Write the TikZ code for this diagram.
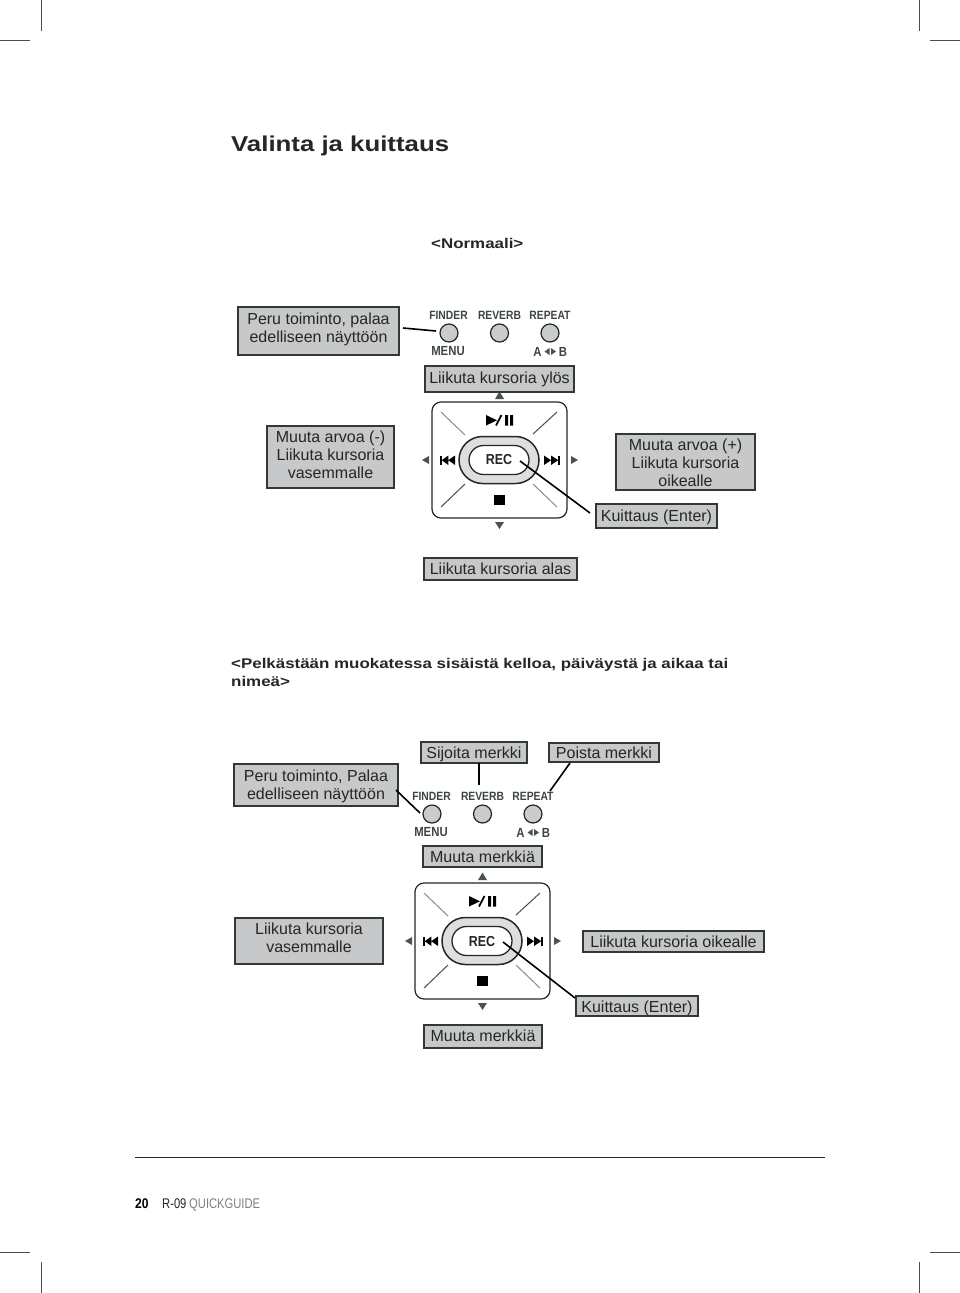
\documentclass[tikz,border=0pt]{standalone}
\usepackage{fontspec}
\setmainfont{Liberation Sans}
\newfontfamily\wideb[FakeStretch=1.2]{Liberation Sans Bold}
\newfontfamily\condb[FakeStretch=0.86]{Liberation Sans Bold}
\newfontfamily\condr[FakeStretch=0.8]{Liberation Sans}
\definecolor{boxgray}{HTML}{C6C8CA}
\definecolor{inkgray}{HTML}{3E4546}
\definecolor{btngray}{HTML}{C9CCCC}
\definecolor{markgray}{HTML}{4A5353}
\tikzset{
  x=1pt,y=-1pt,
  crop/.style={draw=black!70,line width=0.7pt},
  lead/.style={draw=black,line width=1.6pt},
  labbox/.style={draw=inkgray!80!black,line width=1.7pt,fill=boxgray,inner sep=0pt},
  lab/.style={inner sep=0pt,align=center,text=black!85,font=\fontsize{16}{18}\selectfont},
  small/.style={inner sep=0pt,text=inkgray,font=\condb\fontsize{12}{12}\selectfont},
  smallb/.style={inner sep=0pt,text=inkgray,font=\condb\fontsize{13.2}{13}\selectfont},
  btn/.style={circle,draw=black!85,line width=1.2pt,fill=btngray,minimum size=18pt,inner sep=0pt},
  tri/.style={fill=markgray,draw=none},
  icon/.style={fill=black,draw=none},
  head/.style={inner sep=0pt,anchor=base west,align=left,text=black!85,font=\wideb\fontsize{14.1}{18}\selectfont},
  dlight/.style={draw=black!45,line width=1pt},
  ddark/.style={draw=black!70,line width=1pt},
}
\newcommand{\lbl}[7][0]{%
  \node[labbox,minimum width=#5-#3,minimum height=#6-#4] (#2) at ({(#3+#5)/2},{(#4+#6)/2}) {};
  \node[lab] (#2t) at ({(#3+#5)/2},{(#4+#6)/2+#1}) {#7};}
\newcommand{\device}[3]{%
\begin{scope}[shift={(#2,#3)}]
  \node[small] (#1lf) at (448.5,315) {FINDER};
  \node[small] (#1lr) at (499.5,315) {REVERB};
  \node[small] (#1lp) at (550,315) {REPEAT};
  \node[btn] (#1f) at (449,333) {};
  \node[btn] (#1v) at (499.5,333) {};
  \node[btn] (#1p) at (550,333) {};
  \node[smallb] (#1m) at (448,351.5) {MENU};
  \node[smallb] (#1a) at (537.5,351.5) {A};
  \node[smallb] (#1b) at (563,351.5) {B};
  \fill[tri] (544.5,351.5)--(549.5,348)--(549.5,355)--cycle;
  \fill[tri] (556,351.5)--(551,348)--(551,355)--cycle;
  \fill[tri] (495,399)--(499.5,391.5)--(504,399)--cycle;
  \fill[tri] (495,522)--(499.5,529)--(504,522)--cycle;
  \fill[tri] (429,456)--(422,460)--(429,464)--cycle;
  \fill[tri] (571,456)--(578,460)--(571,464)--cycle;
  \node[draw=black!85,line width=1.2pt,fill=white,rounded corners=9pt,minimum width=135pt,minimum height=116pt,inner sep=0pt] (#1pad) at (499.5,460) {};
  \draw[dlight] (441,412)--(465,435);
  \draw[ddark] (557,412)--(533,434);
  \draw[ddark] (441,507)--(465,484);
  \draw[dlight] (557,507)--(533,484);
  \node[draw=black!85,line width=1.5pt,fill=black!13,rounded corners=23.5pt,minimum width=80pt,minimum height=47pt,inner sep=0pt] (#1o) at (499,460) {};
  \node[draw=black!85,line width=1.3pt,fill=white,rounded corners=14.5pt,minimum width=60pt,minimum height=29pt,inner sep=0pt,text=black!85,font=\condb\fontsize{14.5}{14}\selectfont] (#1rec) at (499,460) {REC};
  \fill[icon] (486,415)--(497,420.3)--(486,425.5)--cycle;
  \draw[black,line width=1.8pt] (496,425.5)--(501.5,415);
  \fill[icon] (505,415) rectangle (508,425.5) (510,415) rectangle (513,425.5);
  \fill[icon] (440,455.5) rectangle (441.8,465);
  \fill[icon] (448.3,455.5)--(441.7,460.2)--(448.3,465)--cycle (455,455.5)--(448.3,460.2)--(455,465)--cycle;
  \fill[icon] (558.3,455.5) rectangle (560,465);
  \fill[icon] (544,455.5)--(551,460.2)--(544,465)--cycle (551,455.5)--(558.3,460.2)--(551,465)--cycle;
  \fill[icon] (494,494.5) rectangle (505,505);
\end{scope}}
\begin{document}
\begin{tikzpicture}
\useasboundingbox (0,0) rectangle (960,1293);
\fill[white] (0,0) rectangle (960,1293);
% crop marks
\draw[crop] (41,0)--(41,31) (0,40)--(30,40) (919,0)--(919,31) (930,40)--(960,40);
\draw[crop] (41,1262)--(41,1293) (0,1252)--(30,1252) (919,1262)--(919,1293) (930,1252)--(960,1252);
% titles
\node[head,font=\wideb\fontsize{21.5}{24}\selectfont] (title) at (231,151.5) {Valinta ja kuittaus};
\node[head] (norm) at (431,248) {<Normaali>};
\node[head] (pel) at (231,668) {<Pelkästään muokatessa sisäistä kelloa, päiväystä ja aikaa tai};
\node[head] (pel2) at (231,686) {nimeä>};
% first group
\device{a}{0}{0}
\lbl[-2]{peru}{238}{307}{399}{355}{Peru toiminto, palaa\\edelliseen näyttöön}
\lbl{ylos}{425}{366}{574}{392}{Liikuta kursoria ylös}
\lbl[-2]{minus}{267}{426}{394}{488}{Muuta arvoa (-)\\Liikuta kursoria\\vasemmalle}
\lbl[1]{plus}{616}{434}{755}{490}{Muuta arvoa (+)\\Liikuta kursoria\\oikealle}
\lbl[1]{enter}{596}{504}{717}{528}{Kuittaus (Enter)}
\lbl{alas}{424}{558}{577}{580}{Liikuta kursoria alas}
\coordinate (p1) at (403,328);
\coordinate (p2) at (436,331);
\coordinate (r1) at (520,461);
\coordinate (r2) at (590,513);
\draw[lead] (p1)--(p2);
\draw[lead] (r1)--(r2);
% second group
\device{b}{-17}{481}
\lbl[1]{peruu}{234}{764}{398}{806}{Peru toiminto, Palaa\\edelliseen näyttöön}
\lbl[2]{sij}{421}{742}{527}{763}{Sijoita merkki}
\lbl{poi}{549}{743}{659}{762}{Poista merkki}
\lbl{mm}{423}{846}{542}{867}{Muuta merkkiä}
\lbl[-3]{vas}{235}{918}{383}{964}{Liikuta kursoria\\vasemmalle}
\lbl{oik}{583}{931}{764}{952}{Liikuta kursoria oikealle}
\lbl[2]{ent}{576}{996}{698}{1016}{Kuittaus (Enter)}
\lbl[-1]{mn}{424}{1025}{542}{1048}{Muuta merkkiä}
\coordinate (q1) at (396,790);
\coordinate (q2) at (420,813);
\coordinate (s1) at (479,763);
\coordinate (s2) at (479,785);
\coordinate (t1) at (570,763);
\coordinate (t2) at (550,791);
\coordinate (u1) at (503,942);
\coordinate (u2) at (575,998);
\draw[lead] (q1)--(q2);
\draw[lead] (s1)--(s2);
\draw[lead] (t1)--(t2);
\draw[lead] (u1)--(u2);
% footer
\coordinate (f1) at (135,1157.5);
\coordinate (f2) at (825,1157.5);
\draw[draw=black!85,line width=0.9pt] (f1)--(f2);
\node[inner sep=0pt,anchor=base west,font=\condb\fontsize{14}{14}\selectfont] (pg) at (135,1208) {20};
\node[inner sep=0pt,anchor=base west,text=black!85,font=\condr\fontsize{14}{14}\selectfont] (model) at (162,1208) {R-09};
\node[inner sep=0pt,anchor=base west,text=black!50,font=\condr\fontsize{14}{14}\selectfont] (qg) at (189,1208) {QUICKGUIDE};
\end{tikzpicture}
\end{document}
